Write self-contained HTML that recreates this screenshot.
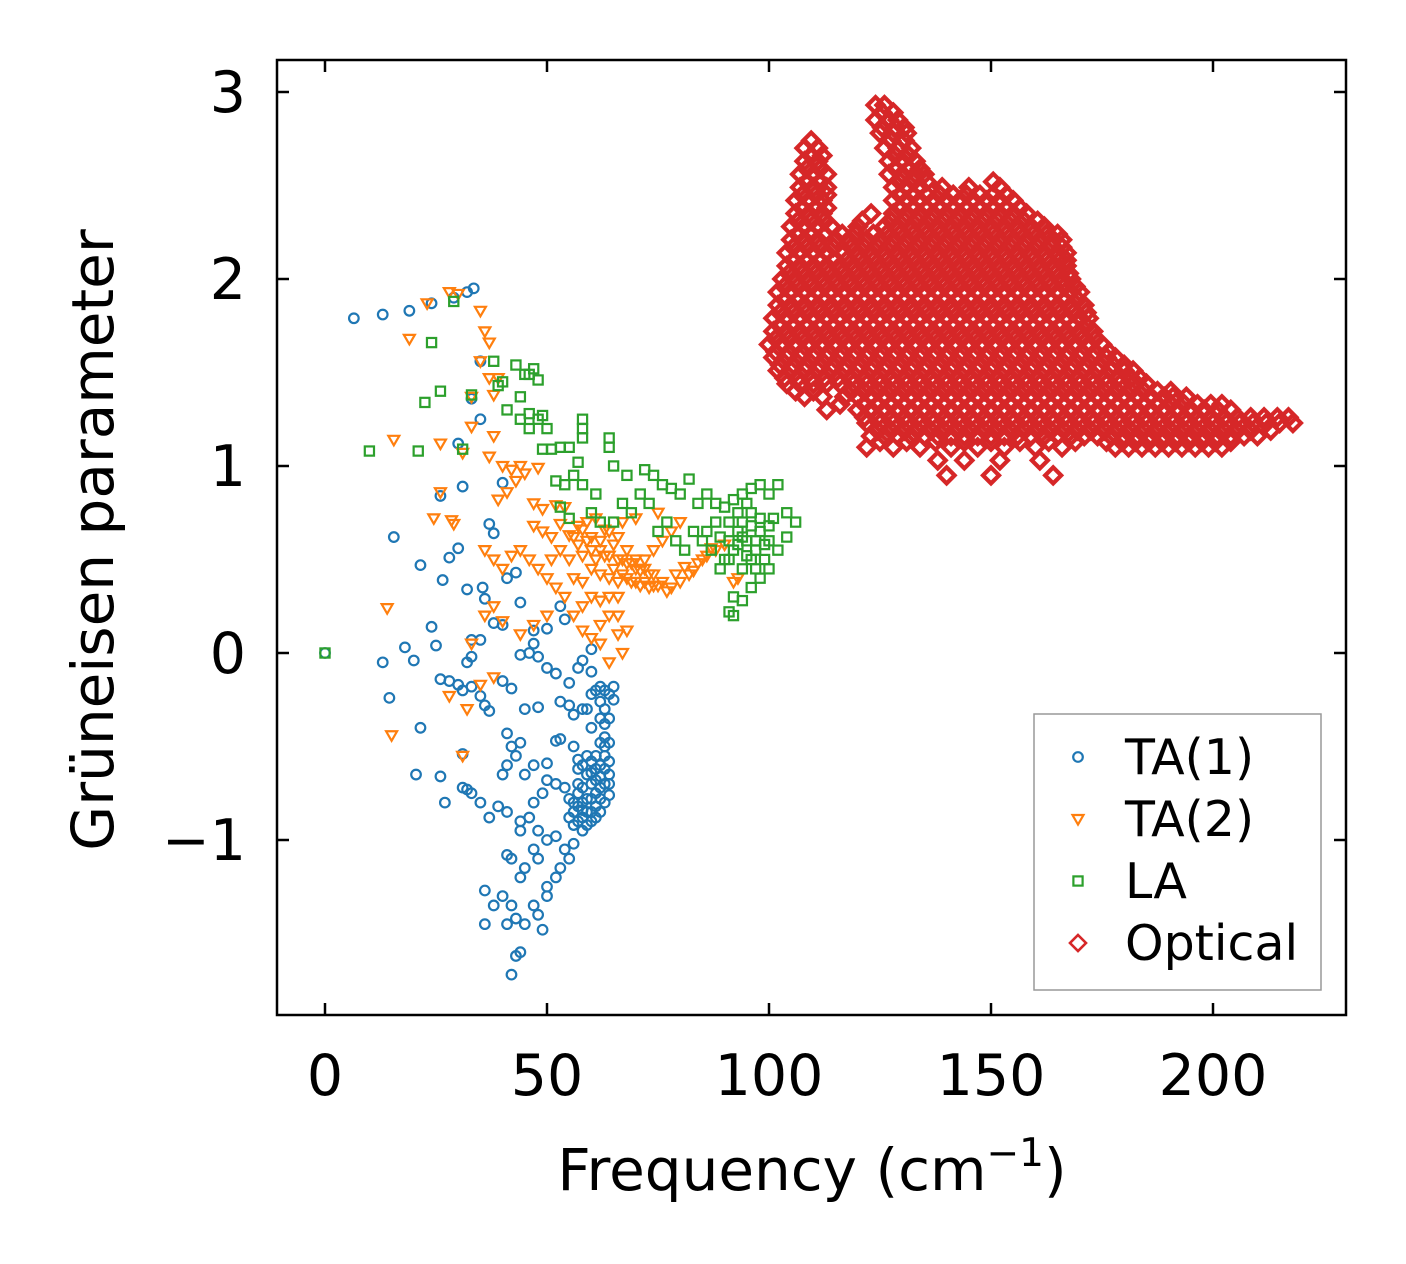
<!DOCTYPE html>
<html><head><meta charset="utf-8"><style>
html,body{margin:0;padding:0;background:#fff;}
svg{display:block;font-family:"DejaVu Sans","Liberation Sans",sans-serif;}
</style></head><body>
<svg id="chart" width="1406" height="1264" viewBox="0 0 1406 1264">
<rect x="0" y="0" width="1406" height="1264" fill="#fff"/>
<g id="marks"></g>
<rect x="277" y="60" width="1069" height="955" fill="none" stroke="#000" stroke-width="2.5"/>
<g id="axes"></g>
<text x="0" y="0" transform="translate(113,540) rotate(-90)" text-anchor="middle" font-size="58">Grüneisen parameter</text>
<text x="812" y="1190" text-anchor="middle" font-size="58">Frequency (cm<tspan font-size="39" dy="-24">−1</tspan><tspan dy="24">)</tspan></text>
<g>
<rect x="1034" y="714" width="287" height="276" fill="#fff" stroke="#999" stroke-width="1.5"/>
<g id="legend-items"></g>
</g>
</svg>
<script>
const xTicks=[0,50,100,150,200];
const yTicks=[-1,0,1,2,3];
const yTickLabels=["−1","0","1","2","3"];
const seriesNames=["TA(1)","TA(2)","LA","Optical"];
const ta1=[[0,0],[6.5,1.79],[13,1.81],[19,1.83],[24,1.87],[29,1.9],[32,1.93],[33.5,1.95],[33,1.36],[35,1.25],[35,1.56],[30,1.12],[31,0.89],[26,0.84],[40,0.91],[37,0.69],[38,0.64],[30,0.56],[28,0.51],[21.5,0.47],[15.5,0.62],[26.5,0.39],[32,0.34],[35.5,0.35],[36,0.29],[41,0.4],[43,0.43],[44,0.27],[38,0.16],[33,0.07],[35,0.07],[40,0.15],[47,0.12],[53,0.25],[54,0.18],[50,0.13],[47,0.05],[46,0.0],[44,-0.01],[32,-0.05],[33,-0.02],[13,-0.05],[18,0.03],[20,-0.04],[24,0.14],[25,0.04],[26,-0.14],[28,-0.15],[30,-0.17],[31,-0.2],[33,-0.18],[35,-0.23],[36,-0.28],[37,-0.31],[40,-0.15],[42,-0.19],[45,-0.3],[48,-0.29],[48,-0.02],[50,-0.08],[52,-0.11],[55,-0.16],[57,-0.08],[58,-0.04],[60,0.02],[60,-0.1],[61,-0.2],[62,-0.26],[63,-0.3],[64,-0.22],[65,-0.18],[62,-0.35],[60,-0.4],[58,-0.3],[56,-0.33],[55,-0.28],[53,-0.26],[14.5,-0.24],[21.5,-0.4],[31,-0.54],[41,-0.43],[42,-0.5],[43,-0.55],[44,-0.48],[40,-0.65],[41,-0.6],[45,-0.65],[47,-0.6],[50,-0.59],[52,-0.47],[53,-0.46],[56,-0.5],[57,-0.57],[58,-0.6],[59,-0.65],[60,-0.7],[61,-0.75],[62,-0.6],[63,-0.55],[64,-0.65],[63,-0.8],[62,-0.85],[60,-0.9],[58,-0.88],[57,-0.82],[56,-0.92],[55,-0.78],[54,-0.72],[52,-0.7],[50,-0.68],[49,-0.75],[47,-0.8],[46,-0.88],[44,-0.9],[44,-0.95],[41,-0.85],[39,-0.82],[37,-0.88],[35,-0.8],[33,-0.75],[31,-0.72],[32,-0.73],[27,-0.8],[26,-0.66],[20.5,-0.65],[48,-0.95],[50,-1.0],[52,-0.98],[54,-1.05],[56,-1.02],[55,-1.1],[53,-1.15],[52,-1.2],[50,-1.25],[48,-1.1],[47,-1.05],[45,-1.15],[44,-1.2],[42,-1.1],[41,-1.08],[38,-1.35],[36,-1.27],[40,-1.3],[42,-1.35],[43,-1.42],[45,-1.45],[47,-1.35],[48,-1.4],[49,-1.48],[50,-1.3],[41,-1.45],[36,-1.45],[43,-1.62],[44,-1.6],[42,-1.72],[56,-0.85],[58,-0.8],[60,-0.78],[61,-0.68],[62,-0.72],[63,-0.62],[64,-0.7],[59,-0.55],[57,-0.7],[60,-0.85],[63,-0.45],[64,-0.35],[65,-0.25],[58,-0.72],[59,-0.78],[61,-0.82],[62,-0.78],[63,-0.7],[64,-0.58],[61,-0.62],[60,-0.58],[59,-0.85],[57,-0.9],[55,-0.88],[58,-0.95],[61,-0.55],[62,-0.48],[64,-0.48],[63,-0.38],[62,-0.18],[60,-0.22],[59,-0.3],[63,-0.2],[57,-0.75],[58,-0.84],[59,-0.92],[60,-0.64],[62,-0.66],[64,-0.76],[61,-0.88],[56,-0.8],[57,-0.62],[63,-0.5]];
const ta2=[[19,1.68],[23,1.87],[28,1.93],[30,1.92],[35,1.83],[36,1.72],[37,1.66],[35,1.56],[37,1.47],[39,1.47],[38,1.38],[33,1.37],[33,1.21],[38,1.16],[15.5,1.14],[26,1.12],[31,1.07],[37,1.05],[40,1.0],[42,0.98],[44,1.0],[45,0.96],[48,0.99],[43,0.92],[41,0.86],[26,0.86],[39,0.82],[47,0.8],[49,0.77],[52,0.79],[54,0.78],[24.5,0.72],[28.5,0.71],[29,0.69],[47,0.68],[49,0.65],[51,0.62],[53,0.69],[55,0.63],[57,0.58],[58,0.52],[60,0.55],[62,0.6],[64,0.65],[66,0.62],[68,0.55],[70,0.5],[72,0.45],[74,0.42],[76,0.38],[78,0.35],[80,0.38],[82,0.42],[84,0.48],[86,0.52],[88,0.55],[90,0.58],[93,0.4],[92,0.38],[60,0.45],[62,0.42],[64,0.4],[66,0.38],[68,0.4],[70,0.45],[72,0.5],[74,0.55],[76,0.6],[78,0.65],[80,0.7],[75,0.75],[70,0.72],[67,0.7],[73,0.35],[77,0.33],[64,0.2],[62,0.15],[66,0.1],[68,0.12],[60,0.08],[58,0.12],[64,-0.05],[67,0.0],[56,0.2],[54,0.3],[52,0.35],[50,0.4],[48,0.45],[46,0.5],[44,0.55],[42,0.52],[40,0.45],[38,0.5],[36,0.55],[50,0.2],[47,0.15],[44,0.1],[40,0.17],[38,0.25],[36,0.2],[33,0.05],[28,-0.23],[35,-0.17],[38,-0.13],[32,-0.3],[15,-0.44],[14,0.24],[31,-0.55],[57,0.68],[59,0.7],[61,0.72],[63,0.66],[65,0.58],[67,0.5],[69,0.48],[71,0.44],[73,0.42],[79,0.42],[81,0.46],[83,0.44],[85,0.5],[87,0.56],[56,0.4],[58,0.38],[55,0.5],[53,0.55],[51,0.5],[59,0.6],[61,0.5],[63,0.52],[65,0.45],[67,0.42],[69,0.38],[71,0.36],[75,0.36],[66,0.3],[64,0.3],[62,0.28],[60,0.3],[58,0.25],[66,0.2],[62,0.05],[56,0.62],[58,0.66],[60,0.62],[62,0.55],[64,0.52],[66,0.5],[68,0.48],[70,0.38],[72,0.38],[74,0.36]];
const la=[[0,0],[10,1.08],[21,1.08],[22.5,1.34],[24,1.66],[26,1.4],[29,1.88],[31,1.09],[33,1.38],[38,1.56],[39,1.43],[40,1.45],[41,1.3],[43,1.54],[44,1.37],[45,1.49],[46,1.49],[47,1.52],[48,1.46],[44,1.25],[46,1.28],[48,1.25],[49,1.27],[50,1.2],[46,1.2],[49,1.09],[51,1.09],[53,1.1],[55,1.1],[58,1.2],[58,1.25],[58,1.15],[57,1.02],[56,0.95],[52,0.92],[54,0.9],[58,0.9],[61,0.85],[64,1.1],[64,1.15],[65,1.0],[68,0.95],[72,0.98],[74,0.95],[76,0.9],[78,0.88],[80,0.85],[82,0.93],[84,0.8],[86,0.85],[88,0.8],[90,0.78],[92,0.82],[94,0.85],[96,0.88],[98,0.9],[100,0.85],[102,0.9],[104,0.75],[106,0.7],[104,0.62],[102,0.55],[100,0.6],[98,0.65],[96,0.5],[94,0.45],[92,0.3],[91,0.22],[92,0.2],[94,0.28],[96,0.35],[98,0.4],[100,0.45],[97,0.55],[95,0.6],[93,0.65],[91,0.7],[89,0.62],[87,0.55],[85,0.6],[83,0.65],[81,0.55],[79,0.6],[77,0.7],[75,0.65],[73,0.8],[71,0.85],[69,0.75],[67,0.8],[65,0.7],[90,0.5],[92,0.55],[94,0.7],[96,0.75],[98,0.72],[100,0.68],[95,0.8],[93,0.75],[97,0.6],[99,0.5],[88,0.7],[86,0.65],[91,0.6],[89,0.45],[60,0.75],[62,0.7],[53,0.78],[55,0.72],[95,0.52],[97,0.45],[99,0.58],[101,0.72],[93,0.58],[91,0.5],[96,0.68],[94,0.62]];
const opticalY=[2.93,2.85,2.78,2.70,2.63,2.56,2.49,2.42,2.35,2.28,2.21,2.14,2.07,2.00,1.93,1.86,1.79,1.72,1.65,1.58,1.51,1.44,1.37,1.30,1.23,1.16,1.10,1.03,0.95];
const opticalX=[
[124,126],
[124,127,129],
[125,128,131],
[108,111,126,129,132],
[108,111,127,130,133],
[107,110,113,127,130,133,135],
[107,110,113,128,131,134,139,145,152],
[106,109,112,128,131,134,137,140,143,146,149,152,155],
[106,109,112,123,128,131,134,137,140,143,146,149,152,155,158],
[105,108,111,114,120,126,129,132,135,138,141,144,147,150,153,156,159,162],
[105,108,111,115,118,122,125,128,131,134,137,140,143,146,149,152,155,158,161,164,166],
[104,107,110,113,117,120,123,126,129,132,135,138,141,144,147,150,153,156,159,162,165,167],
[104,107,110,113,116,119,122,125,128,131,134,137,140,143,146,149,152,155,158,161,164,167],
[103,106,109,112,115,118,121,124,127,130,133,136,139,142,145,148,151,154,157,160,163,166,168],
[102,105,108,111,114,117,120,123,126,129,132,135,138,141,144,147,150,153,156,159,162,165,168,170],
[102,105,108,111,114,117,120,123,126,129,132,135,138,141,144,147,150,153,156,159,162,165,168,171],
[101,104,107,110,113,116,119,122,125,128,131,134,137,140,143,146,149,152,155,158,161,164,167,170,172],
[101,104,107,110,113,116,119,122,125,128,131,134,137,140,143,146,149,152,155,158,161,164,167,170,173],
[100,103,106,109,112,115,118,121,124,127,130,133,136,139,142,145,148,151,154,157,160,163,166,169,172,175],
[101,104,107,110,113,116,119,122,125,128,131,134,137,140,143,146,149,152,155,158,161,164,167,170,173,176,178],
[102,105,108,111,114,117,120,123,126,129,132,135,138,141,144,147,150,153,156,159,162,165,168,171,174,177,180,182],
[104,107,110,113,116,119,122,125,128,131,134,137,140,143,146,149,152,155,158,161,164,167,170,173,176,179,182,185],
[108,112,117,120,123,126,129,132,135,138,141,144,147,150,153,156,159,162,165,168,171,174,177,180,183,186,189,191,194],
[113,120,123,126,129,132,135,138,141,144,147,150,153,156,159,162,165,168,171,174,177,180,183,186,189,192,195,198,201,204],
[122,125,128,131,134,137,140,143,146,149,152,155,158,161,164,167,170,173,176,179,182,185,188,191,194,197,200,203,206,209,212,215,218],
[123,126,129,132,135,138,141,144,147,150,153,156,159,162,165,168,171,174,177,180,183,186,189,192,195,198,201,204,207,210],
[122,128,134,141,147,153,160,166,178,181,184,187,190,193,196,199,202],
[138,144,152,161],
[140,150,164]
];
const opticalYMid=[2.89,2.81,2.74,2.66,2.59,2.52,2.45,2.38,2.31,2.24,2.17,2.10,2.03,1.96,1.89,1.82,1.75,1.68,1.61,1.54,1.47,1.40,1.33,1.26,1.19,1.13];
const opticalXMid=[
[125.5,128],
[125.5,128.5,130.5],
[109.5,127.5,130.5],
[109.5,112,128.5,131.5],
[108.5,111.5,128.5,131.5,134],
[108.5,111.5,129.5,132.5,135.5,150.5],
[107.5,110.5,113,129.5,132.5,135.5,138.5,141.5,144.5,147.5,150.5,153.5],
[107.5,110.5,113,129.5,132.5,135.5,138.5,141.5,144.5,147.5,150.5,153.5,156.5],
[106.5,109.5,112.5,121,127.5,130.5,133.5,136.5,139.5,142.5,145.5,148.5,151.5,154.5,157.5,160.5],
[106.5,109.5,112.5,116.5,119.5,123.5,126.5,129.5,132.5,135.5,138.5,141.5,144.5,147.5,150.5,153.5,156.5,159.5,162.5,165],
[105.5,108.5,111.5,114.5,118.5,121.5,124.5,127.5,130.5,133.5,136.5,139.5,142.5,145.5,148.5,151.5,154.5,157.5,160.5,163.5,166],
[105.5,108.5,111.5,114.5,117.5,120.5,123.5,126.5,129.5,132.5,135.5,138.5,141.5,144.5,147.5,150.5,153.5,156.5,159.5,162.5,165.5,167],
[104.5,107.5,110.5,113.5,116.5,119.5,122.5,125.5,128.5,131.5,134.5,137.5,140.5,143.5,146.5,149.5,152.5,155.5,158.5,161.5,164.5,167.5],
[103.5,106.5,109.5,112.5,115.5,118.5,121.5,124.5,127.5,130.5,133.5,136.5,139.5,142.5,145.5,148.5,151.5,154.5,157.5,160.5,163.5,166.5,169],
[103.5,106.5,109.5,112.5,115.5,118.5,121.5,124.5,127.5,130.5,133.5,136.5,139.5,142.5,145.5,148.5,151.5,154.5,157.5,160.5,163.5,166.5,169.5],
[102.5,105.5,108.5,111.5,114.5,117.5,120.5,123.5,126.5,129.5,132.5,135.5,138.5,141.5,144.5,147.5,150.5,153.5,156.5,159.5,162.5,165.5,168.5,171.5],
[102.5,105.5,108.5,111.5,114.5,117.5,120.5,123.5,126.5,129.5,132.5,135.5,138.5,141.5,144.5,147.5,150.5,153.5,156.5,159.5,162.5,165.5,168.5,171.5],
[101.5,104.5,107.5,110.5,113.5,116.5,119.5,122.5,125.5,128.5,131.5,134.5,137.5,140.5,143.5,146.5,149.5,152.5,155.5,158.5,161.5,164.5,167.5,170.5,173.5],
[101.5,104.5,107.5,110.5,113.5,116.5,119.5,122.5,125.5,128.5,131.5,134.5,137.5,140.5,143.5,146.5,149.5,152.5,155.5,158.5,161.5,164.5,167.5,170.5,173.5,176.5],
[102.5,105.5,108.5,111.5,114.5,117.5,120.5,123.5,126.5,129.5,132.5,135.5,138.5,141.5,144.5,147.5,150.5,153.5,156.5,159.5,162.5,165.5,168.5,171.5,174.5,177.5,180],
[103.5,106.5,109.5,112.5,115.5,118.5,121.5,124.5,127.5,130.5,133.5,136.5,139.5,142.5,145.5,148.5,151.5,154.5,157.5,160.5,163.5,166.5,169.5,172.5,175.5,178.5,181.5,183.5],
[106,110,118.5,121.5,124.5,127.5,130.5,133.5,136.5,139.5,142.5,145.5,148.5,151.5,154.5,157.5,160.5,163.5,166.5,169.5,172.5,175.5,178.5,181.5,184.5,187.5,190.5],
[116,121.5,124.5,127.5,130.5,133.5,136.5,139.5,142.5,145.5,148.5,151.5,154.5,157.5,160.5,163.5,166.5,169.5,172.5,175.5,178.5,181.5,184.5,187.5,190.5,193.5,196.5,199.5,202],
[121.5,124.5,127.5,130.5,133.5,136.5,139.5,142.5,145.5,148.5,151.5,154.5,157.5,160.5,163.5,166.5,169.5,172.5,175.5,178.5,181.5,184.5,187.5,190.5,193.5,196.5,199.5,202.5,205.5,208.5,211.5,214.5,217],
[124.5,127.5,130.5,133.5,136.5,139.5,142.5,145.5,148.5,151.5,154.5,157.5,160.5,163.5,166.5,169.5,172.5,175.5,178.5,181.5,184.5,187.5,190.5,193.5,196.5,199.5,202.5,205.5,208.5,213],
[125,131,137.5,144,150,156.5,163,169,176,179.5,182.5,185.5,188.5,191.5,194.5,197.5,200.5,204]
];
const X0=325, XS=4.44, Y0=653, YS=187;
function sx(v){return X0+v*XS;}
function sy(v){return Y0-v*YS;}
const NS="http://www.w3.org/2000/svg";
const marks=document.getElementById('marks');
const axes=document.getElementById('axes');
const colors=["#1f77b4","#ff7f0e","#2ca02c","#d62728"];
function marker(kind,cx,cy,parent,sw){
  let el;
  if(kind===0){el=document.createElementNS(NS,'circle');el.setAttribute('cx',cx);el.setAttribute('cy',cy);el.setAttribute('r',4.8);}
  else if(kind===1){el=document.createElementNS(NS,'polygon');el.setAttribute('points',`${cx-5.5},${cy-4} ${cx+5.5},${cy-4} ${cx},${cy+5.5}`);}
  else if(kind===2){el=document.createElementNS(NS,'rect');el.setAttribute('x',cx-4.6);el.setAttribute('y',cy-4.6);el.setAttribute('width',9.2);el.setAttribute('height',9.2);}
  else {el=document.createElementNS(NS,'polygon');el.setAttribute('points',`${cx},${cy-8} ${cx+8},${cy} ${cx},${cy+8} ${cx-8},${cy}`);}
  el.setAttribute('fill','none');el.setAttribute('stroke',colors[kind]);el.setAttribute('stroke-width',sw||(kind===3?2.6:2.2));
  parent.appendChild(el);return el;
}
function drawSeries(data,kind,name,sw){
  const g=document.createElementNS(NS,'g');
  
  
  marks.appendChild(g);
  data.forEach(p=>{
    const m=marker(kind,sx(p[0]),sy(p[1]),g,sw);
    
    
  });
}
drawSeries(ta1,0,'ta1-series');
drawSeries(ta2,1,'ta2-series');
drawSeries(la,2,'la-series');
const optical=[];
opticalY.forEach((y,i)=>opticalX[i].forEach(x=>optical.push([x,y])));
opticalYMid.forEach((y,i)=>opticalXMid[i].forEach(x=>optical.push([x,y])));
drawSeries(optical,3,'optical-series',4.2);
function line(x1,y1,x2,y2){const l=document.createElementNS(NS,'line');l.setAttribute('x1',x1);l.setAttribute('y1',y1);l.setAttribute('x2',x2);l.setAttribute('y2',y2);l.setAttribute('stroke','#000');l.setAttribute('stroke-width',2.5);axes.appendChild(l);return l;}
function txt(x,y,s,anchor,name){const t=document.createElementNS(NS,'text');t.setAttribute('x',x);t.setAttribute('y',y);t.setAttribute('text-anchor',anchor);t.setAttribute('font-size','57');t.textContent=s;


axes.appendChild(t);}
xTicks.forEach(v=>{const x=sx(v);
  const a=line(x,1015,x,1003);
  const b=line(x,60,x,72);
  txt(x,1095,String(v),'middle','x-tick-label');});
yTicks.forEach((v,i)=>{const y=sy(v);
  const a=line(277,y,289,y);
  const b=line(1346,y,1334,y);
  txt(246,y+20,yTickLabels[i],'end','y-tick-label');});
const li=document.getElementById('legend-items');
seriesNames.forEach((n,i)=>{
  const y=757+i*62;
  const g=document.createElementNS(NS,'g');
  
  
  li.appendChild(g);
  marker(i,1078,y,g);
  const t=document.createElementNS(NS,'text');t.setAttribute('x',1125);t.setAttribute('y',y+17);t.setAttribute('font-size','49');t.textContent=n;
  
  
  g.appendChild(t);
});
</script>
</body></html>
